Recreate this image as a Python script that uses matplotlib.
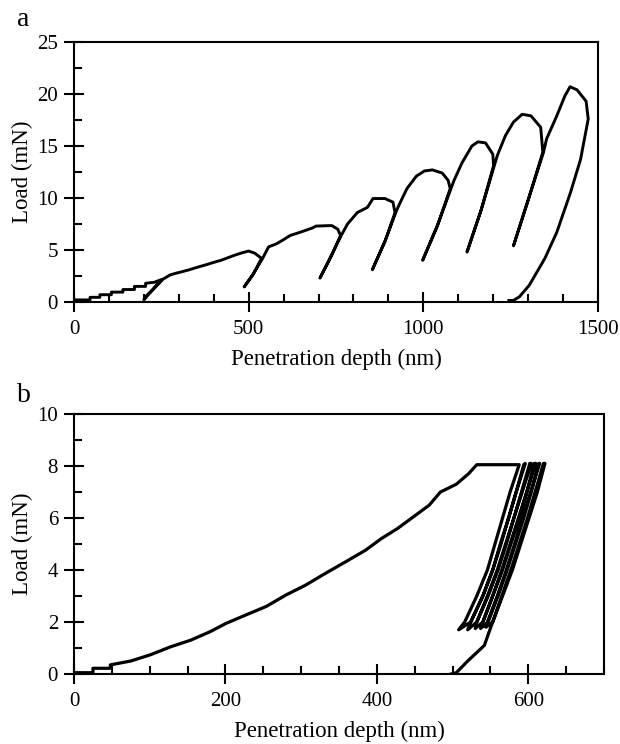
import matplotlib
matplotlib.use("Agg")
import matplotlib.pyplot as plt
from matplotlib.ticker import MultipleLocator

plt.rcParams['font.family'] = ['Liberation Serif', 'DejaVu Serif']

# ---------------- Panel a data: cyclic loading (depth nm, load mN) ----------------
a_depth = [0, 46, 46, 74, 74, 107, 107, 140, 140, 173, 173, 205, 205, 230, 250,
           225, 203, 200,
           210, 235, 255,
           275, 290, 308, 330, 354, 375, 399, 420, 444, 460, 478, 500, 517, 537,
           512, 487,
           515, 540,
           557, 580, 600, 619, 647, 681, 693, 738, 755, 763,
           735, 704,
           737, 765,
           783, 811, 840, 856, 890, 913, 919,
           890, 854,
           892, 921,
           930, 953, 980, 1003, 1026, 1054, 1071, 1077,
           1040, 998,
           1042, 1079,
           1088, 1111, 1139, 1156, 1178, 1199, 1201,
           1165, 1125,
           1167, 1203,
           1212, 1235, 1258, 1283, 1308, 1336, 1342,
           1300, 1258,
           1302, 1344,
           1353, 1382, 1405, 1420, 1440, 1466, 1472,
           1450, 1421, 1382, 1348, 1303, 1275, 1258, 1245]
a_load = [0.2, 0.2, 0.45, 0.45, 0.7, 0.7, 0.95, 0.95, 1.2, 1.2, 1.5, 1.5, 1.8, 1.9, 2.15,
          1.2, 0.45, 0.2,
          0.6, 1.5, 2.2,
          2.6, 2.75, 2.9, 3.1, 3.35, 3.55, 3.8, 4.0, 4.3, 4.5, 4.7, 4.9, 4.7, 4.2,
          2.6, 1.45,
          2.8, 4.2,
          5.3, 5.6, 6.0, 6.4, 6.7, 7.1, 7.3, 7.35, 7.0, 6.4,
          4.3, 2.3,
          4.5, 6.4,
          7.5, 8.6, 9.1, 9.95, 9.95, 9.6, 8.6,
          5.8, 3.1,
          6.0, 8.6,
          9.3, 10.9, 12.1, 12.6, 12.7, 12.4, 11.7, 10.9,
          7.3, 4.0,
          7.5, 10.9,
          11.7, 13.4, 15.0, 15.4, 15.3, 14.2, 13.1,
          8.8, 4.8,
          9.0, 13.1,
          14.1, 16.0, 17.3, 18.05, 17.9, 16.8, 14.4,
          9.8, 5.4,
          10.0, 14.4,
          15.7, 17.9, 19.8, 20.7, 20.4, 19.3, 17.6,
          13.7, 10.5, 6.7, 4.2, 1.6, 0.5, 0.15, 0.15]

# ---------------- Panel b data: repeated unload/reload at 8 mN ----------------
b_depth = [0, 25, 25, 48, 48, 75, 101, 128, 154, 180, 201, 227, 254, 280, 306, 332,
           359, 385, 406, 427, 448, 469, 484, 505, 521, 532, 588,
           576, 566, 556, 546, 532, 516, 508,
           524, 540, 553, 564, 574, 584, 594,
           596, 584, 574, 563, 553, 540, 524, 520,
           532, 547, 560, 571, 581, 591, 602,
           604, 592, 581, 570, 559, 546, 532, 530,
           540, 553, 566, 577, 588, 598, 608,
           610, 598, 587, 576, 565, 553, 540, 537,
           547, 560, 572, 583, 594, 604, 614,
           615, 603, 592, 582, 571, 559, 546, 544,
           553, 565, 577, 588, 599, 609, 620,
           622, 612, 601, 590, 579, 566, 553, 548, 542, 520, 505, 498]
b_load = [0.05, 0.05, 0.22, 0.22, 0.35, 0.5, 0.74, 1.05, 1.3, 1.63, 1.95, 2.27, 2.6, 3.04, 3.42, 3.87,
          4.32, 4.76, 5.21, 5.59, 6.04, 6.49, 7.0, 7.3, 7.7, 8.05, 8.05,
          7.0, 6.0, 5.0, 4.0, 3.0, 2.0, 1.7,
          2.0, 3.0, 4.0, 5.0, 6.0, 7.0, 8.05,
          8.1, 7.0, 6.0, 5.0, 4.0, 3.0, 2.0, 1.7,
          2.0, 3.0, 4.0, 5.0, 6.0, 7.0, 8.1,
          8.1, 7.0, 6.0, 5.0, 4.0, 3.0, 2.0, 1.75,
          2.0, 3.0, 4.0, 5.0, 6.0, 7.0, 8.1,
          8.1, 7.0, 6.0, 5.0, 4.0, 3.0, 2.0, 1.75,
          2.0, 3.0, 4.0, 5.0, 6.0, 7.0, 8.1,
          8.1, 7.0, 6.0, 5.0, 4.0, 3.0, 2.0, 1.8,
          2.0, 3.0, 4.0, 5.0, 6.0, 7.0, 8.1,
          8.1, 7.0, 6.0, 5.0, 4.0, 3.0, 2.0, 1.6, 1.1, 0.5, 0.05, 0.0]

a_xticks = [0, 500, 1000, 1500]
a_yticks = [0, 5, 10, 15, 20, 25]
b_xticks = [0, 200, 400, 600]
b_yticks = [0, 2, 4, 6, 8, 10]

W, H = 620, 744
fig = plt.figure(figsize=(W / 100, H / 100), dpi=100)

ax_a = fig.add_axes([74 / W, 1 - 302 / H, 524 / W, 260 / H])
ax_b = fig.add_axes([74 / W, 1 - 674 / H, 530 / W, 260 / H])

FS_TICK = 15
FS_LAB = 16.5


def style(ax, xticks, yticks, xminor, yminor, xlim, ylim):
    ax.set_xlim(*xlim)
    ax.set_ylim(*ylim)
    ax.set_xticks(xticks)
    ax.set_yticks(yticks)
    ax.xaxis.set_minor_locator(MultipleLocator(xminor))
    ax.yaxis.set_minor_locator(MultipleLocator(yminor))
    ax.tick_params(which='major', direction='inout', length=14, width=1.5,
                   labelsize=FS_TICK, top=False, right=False)
    ax.tick_params(which='minor', direction='in', length=5.5, width=1.5,
                   top=False, right=False)
    ax.tick_params(axis='y', which='major', pad=4.5)
    ax.tick_params(axis='x', which='major', pad=6)
    for s in ax.spines.values():
        s.set_linewidth(1.5)
    ax.set_xlabel('Penetration depth (nm)', fontsize=FS_LAB, labelpad=7)
    ax.set_ylabel('Load (mN)', fontsize=FS_LAB, labelpad=3)


ax_a.plot(a_depth, a_load, color='black', lw=2.1, solid_joinstyle='round')
style(ax_a, a_xticks, a_yticks, 100, 2.5, (0, 1500), (0, 25))

ax_b.plot(b_depth, b_load, color='black', lw=2.3, solid_joinstyle='round')
style(ax_b, b_xticks, b_yticks, 50, 1, (0, 700), (0, 10))

fig.text(17 / W, 1 - 26 / H, 'a', fontsize=20, ha='left', va='baseline')
fig.text(17 / W, 1 - 402 / H, 'b', fontsize=20, ha='left', va='baseline')

fig.savefig('out.png', dpi=100)
